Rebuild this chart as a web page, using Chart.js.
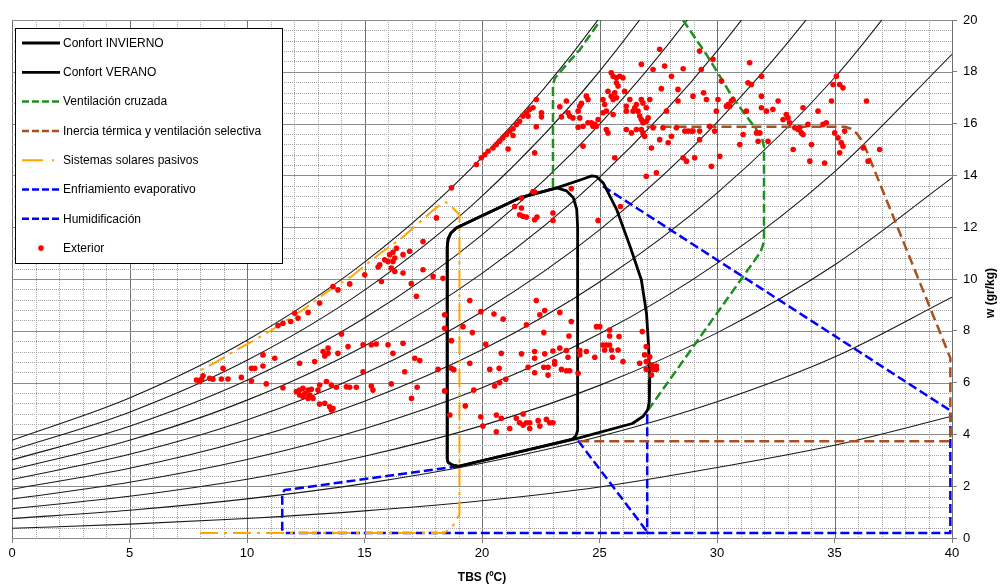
<!DOCTYPE html>
<html>
<head>
<meta charset="utf-8">
<script src="https://cdn.jsdelivr.net/npm/chart.js@4.4.0/dist/chart.umd.min.js"></script>
<style>
  html, body { margin: 0; padding: 0; background: #fff; }
  #wrap { width: 1000px; height: 588px; }
</style>
</head>
<body>
<div id="wrap"><canvas id="chart" width="1000" height="588"></canvas></div>
<script>
// Temperatures (TBS, ºC) where the relative humidity curves are read
const temps = [0, 5, 10, 15, 20, 25, 30, 35, 40];

// Humidity ratio w (g/kg) of each relative humidity curve at those temperatures
const hr10 = [0.375, 0.536, 0.755, 1.049, 1.439, 1.97, 2.72, 3.58, 4.7];
const hr20 = [0.751, 1.073, 1.512, 2.101, 2.885, 3.916, 5.258, 6.988, 9.3];
const hr30 = [1.128, 1.611, 2.270, 3.157, 4.338, 5.893, 7.920, 10.541, 13.903];
const hr40 = [1.505, 2.150, 3.031, 4.217, 5.797, 7.882, 10.605, 14.135, 18.677];
const hr50 = [1.882, 2.690, 3.793, 5.280, 7.264, 9.884, 13.313, 17.770, 23.52];
const hr60 = [2.260, 3.231, 4.557, 6.347, 8.737, 11.898, 16.045, 21.446, 28.44];
const hr70 = [2.638, 3.772, 5.323, 7.417, 10.217, 13.925, 18.800, 25.165, 33.44];
const hr80 = [3.017, 4.315, 6.091, 8.491, 11.704, 15.966, 21.579, 28.93, 38.51];
const hr90 = [3.396, 4.859, 6.860, 9.569, 13.198, 18.019, 24.382, 32.73, 43.66];
const hr100 = [3.775, 5.403, 7.632, 10.650, 14.699, 20.086, 27.210, 36.58, 48.89];

// Zones [TBS, w]
const confortInvierno = [[18.52,3.05],[18.52,11.25],[18.56,11.55],[18.68,11.78],[18.9,11.97],[21.6,13.13],[23.18,13.52],
  [23.6,13.40],[23.88,13.15],[24.03,12.70],[24.07,12.0],[24.07,4.15],[24.0,3.95],[23.85,3.82],[19.0,2.77],[18.72,2.82],[18.56,2.92],[18.52,3.05]];
const confortVerano = [[18.52,3.05],[18.52,11.25],[18.56,11.55],[18.68,11.78],[18.9,11.97],[21.6,13.13],[23.18,13.52],
  [24.3,13.86],[24.67,13.98],[24.88,13.95],[25.16,13.71],[25.73,12.68],[26.3,11.26],[26.78,9.97],[27.0,8.68],[27.09,7.39],
  [27.14,6.10],[27.12,5.25],[27.05,4.95],[26.86,4.70],[26.4,4.42],[24.02,3.84],[19.0,2.77],[18.72,2.82],[18.56,2.92],[18.52,3.05]];
const ventilacionA = [[23.02,13.55],[23.02,17.5],[23.1,17.75],[23.3,17.97],[24.16,18.85],[25.05,20.0]];
const ventilacionB = [[28.55,20.0],[29.55,18.67],[30.12,17.83],[30.68,16.99],[31.25,16.29],[31.68,15.77],[31.92,15.42],
  [32.0,15.1],[32.0,11.45],[31.9,11.15],[31.78,10.95],[27.07,4.94]];
const inercia = [[27.0,15.88],[35.43,15.88],[35.7,15.8],[35.95,15.62],[36.14,15.38],[36.3,15.1],[39.93,6.95],[39.93,3.74],[24.03,3.74]];
const solares = [[8.0,0.19],[18.4,0.19],[18.75,0.45],[19.04,0.9],[19.04,12.48],[18.75,12.75],[18.45,12.97],[18.2,12.85],
  [17.86,12.61],[17.15,12.03],[16.58,11.58],[15.73,11.03],[15.23,10.68],[14.45,10.10],[13.74,9.71],[13.03,9.26],
  [12.47,8.87],[11.05,8.03],[10.2,7.58],[9.49,7.23],[8.64,6.77],[7.99,6.46]];
const enfriamiento = [[25.15,13.58],[39.93,4.92],[39.93,0.19],[27.03,0.19],[27.03,4.85]];
const humidificacion = [[19.0,2.77],[11.6,1.85],[11.5,1.72],[11.5,0.32],[11.62,0.19],[27.03,0.19],[26.98,0.3],[24.02,3.84]];

// Exterior hourly points [TBS, w]
const exterior = [
  [19.97,14.68],[20.12,14.80],[20.26,14.93],[20.47,15.06],[20.61,15.19],[20.75,15.32],[20.89,15.45],[21.04,15.58],[21.18,15.71],[21.32,15.80],
  [21.46,15.97],[21.60,16.09],[21.74,16.29],[21.89,16.42],[22.03,16.55],[22.17,16.61],[22.31,16.93],[21.96,16.29],[21.32,15.54],[21.11,15.02],
  [22.24,14.87],[22.53,16.42],[22.53,16.26],[22.31,15.88],
  [23.31,16.65],[23.38,16.26],[23.59,16.87],[23.66,16.42],[23.73,16.29],[23.87,16.22],[24.09,16.48],[24.16,16.67],[24.16,16.22],[24.30,15.90],
  [24.09,15.86],[24.44,17.06],[24.51,16.93],[24.23,16.78],[24.51,16.03],[24.65,16.03],[24.72,15.90],[24.80,15.97],[24.94,16.16],[24.87,15.90],
  [25.15,16.93],[25.22,16.74],[25.15,16.42],[25.29,16.48],[25.36,17.25],[25.50,17.06],[25.58,16.93],[25.50,17.96],[25.58,17.83],[25.72,17.77],
  [25.86,17.83],[26.00,17.77],[25.72,17.58],[25.79,17.45],[25.65,17.19],[25.72,17.00],[25.58,16.35],[25.29,15.77],[25.36,15.64],[25.65,14.68],
  [24.30,15.13],[26.07,17.25],[26.29,16.93],[26.14,16.67],[26.14,16.48],[26.43,16.48],[26.50,16.61],[26.57,16.74],[26.64,16.48],[26.78,16.93],
  [26.85,16.80],[26.71,16.29],[26.78,16.16],[26.85,16.03],[26.78,15.77],[26.85,15.64],[26.92,15.51],[26.36,15.64],[26.14,15.77],[26.57,15.77],
  [26.99,16.61],[27.14,16.93],[27.07,16.22],[26.99,16.09],[26.78,18.29],[27.28,18.09],[27.56,18.87],[27.77,18.22],[28.06,17.83],[27.63,17.35],
  [27.85,16.48],[27.56,15.38],[27.21,15.06],[26.99,13.97],[27.42,14.10],[27.28,15.84],[27.70,15.84],[27.92,15.26],[28.06,15.51],[28.34,17.32],
  [28.34,16.87],[28.27,15.84],[28.56,18.12],[28.63,15.71],[28.77,15.71],[28.91,15.71],[28.98,17.06],[28.98,15.71],[29.26,15.71],[29.26,15.38],
  [28.56,14.68],[28.70,14.55],[29.05,14.68],[29.26,18.80],[29.33,18.09],[29.43,17.19],[29.55,16.93],[29.83,18.48],[29.90,15.71],[29.69,15.90],
  [29.97,16.48],[30.04,16.93],[30.19,17.64],[30.40,16.67],[30.47,16.74],[30.54,16.67],[30.61,16.87],[30.68,16.93],[30.12,14.74],[29.76,14.35],
  [30.97,15.19],[31.11,15.58],[31.25,16.48],[31.32,17.58],[31.39,18.35],[31.46,17.51],[31.68,15.64],[31.75,15.32],[31.82,15.64],[31.89,17.83],
  [31.89,17.06],[31.89,16.61],[32.10,16.48],[32.17,15.32],[32.38,16.55],[32.60,16.87],[32.81,16.16],[32.95,16.35],[33.02,16.22],[33.09,16.03],
  [33.24,15.00],[33.31,15.84],[33.45,15.77],[33.52,15.84],[33.59,15.64],[33.66,15.58],[33.66,16.61],[33.87,15.97],[34.02,15.19],[33.95,14.55],
  [34.30,16.48],[34.51,15.97],[34.65,16.03],[34.58,14.48],[34.87,16.87],[34.94,17.51],[35.08,17.83],[35.22,17.51],[35.36,17.38],[35.01,15.64],
  [35.15,15.45],[35.29,15.26],[35.36,15.13],[35.22,14.87],[35.43,15.71],[36.22,15.06],[36.36,16.87],[36.43,14.55],[36.92,15.00],
  [19.76,14.42],[18.70,13.52],[18.06,12.36],[21.68,13.13],[22.17,13.38],[22.24,13.36],[21.39,12.80],[21.68,12.74],[21.60,12.48],[21.74,12.42],
  [21.89,12.39],[22.24,12.29],[22.34,12.39],[23.02,12.55],[23.02,12.26],[23.80,13.49],[24.94,12.26],[25.89,12.80],[18.34,10.03],
  [17.49,11.45],[16.36,11.19],[16.21,11.03],[16.07,10.94],[16.29,10.81],[15.86,10.74],[16.00,10.68],[16.21,10.68],[15.65,10.55],[15.58,10.46],
  [16.14,10.42],[16.29,10.29],[16.64,10.23],[16.92,11.07],[16.64,10.94],[17.49,10.36],[17.92,10.10],[15.01,10.16],[15.72,9.90],[13.87,9.58],
  [13.66,9.71],[13.09,9.07],[12.60,8.71],[12.03,8.68],[12.17,8.49],[11.86,8.36],[11.53,8.29],[11.32,8.20],[16.99,9.82],[17.21,9.33],
  [18.41,8.62],[18.41,8.10],[18.70,7.62],[14.02,7.88],[13.45,7.33],[13.45,7.13],[13.31,7.03],[13.24,7.20],[12.88,6.81],[12.24,6.75],
  [13.87,7.13],[14.30,7.39],[14.94,7.46],[15.29,7.46],[15.50,7.49],[16.00,7.46],[16.64,7.52],[16.21,7.13],[17.14,6.94],[17.35,6.85],
  [18.13,6.51],[18.70,6.55],[16.71,6.42],[14.94,6.42],[10.82,5.95],[10.19,6.06],[9.76,6.20],[9.19,6.14],[8.91,6.14],[8.55,6.13],
  [8.41,6.17],[8.06,6.13],[7.99,6.04],[7.85,6.10],[8.13,6.26],[8.98,6.55],[10.19,6.55],[10.33,6.55],[10.68,6.64],[10.68,7.07],
  [11.18,6.94],[11.53,5.80],[18.41,5.68],[17.00,5.39],[14.37,9.81],[17.24,5.82],[18.80,6.50],
  [12.10,5.65],[12.24,5.71],[12.38,5.78],[12.46,5.58],[12.60,5.71],[12.74,5.74],[12.67,5.52],[12.81,5.39],[12.24,5.52],[12.38,5.46],
  [12.60,5.39],[13.09,5.91],[13.02,5.71],[13.38,6.04],[13.59,5.91],[13.80,5.82],[14.23,5.84],[14.37,5.82],[14.65,5.82],[15.29,5.87],
  [15.36,5.71],[16.14,5.95],[13.09,5.17],[13.31,5.20],[13.52,5.07],[13.59,4.94],[13.66,5.00],
  [18.63,4.75],[19.29,5.10],[19.48,9.17],[19.95,8.74],[20.51,8.65],[20.90,8.45],[19.19,8.16],[19.59,7.93],[20.16,7.48],[20.82,7.13],
  [20.33,6.51],[20.73,6.55],[19.48,6.75],[21.01,6.13],[20.75,6.00],[20.54,5.87],[19.65,5.71],[19.95,4.68],[20.61,4.75],[20.82,4.62],
  [21.46,4.62],[21.75,4.79],[21.60,4.45],[21.89,4.45],[22.03,4.45],[22.39,4.53],[22.74,4.58],[22.88,4.45],[23.02,4.45],[22.03,4.23],
  [22.46,4.32],[20.04,4.32],[20.61,4.10],[21.18,4.23],[21.75,4.36],[21.89,8.23],[22.46,8.62],[22.67,8.78],[23.31,8.71],[23.80,8.36],
  [22.63,7.93],[23.70,7.80],[21.68,7.11],[22.24,7.20],[22.67,7.11],[23.02,7.22],[23.31,7.33],[23.59,7.24],[23.66,6.98],[22.24,6.94],
  [21.96,6.59],[22.24,6.38],[22.63,6.59],[22.81,6.59],[23.09,6.81],[23.09,6.72],[23.38,6.51],[23.59,6.46],[23.73,6.46],[22.81,6.29],
  [24.09,6.36],[24.16,7.24],[24.44,7.20],[24.16,7.07],[24.80,6.98],[25.15,7.45],[25.29,7.45],[25.43,7.45],[25.22,7.26],[25.51,7.26],
  [25.79,7.26],[25.43,7.80],[25.43,8.03],[25.83,7.78],[24.87,8.16],[25.01,8.16],[26.82,7.97],[25.55,6.98],[26.00,6.81],[26.71,6.75],
  [26.99,7.39],[26.92,7.07],[27.14,7.00],[26.99,6.81],[27.21,6.68],[27.28,6.64],[27.42,6.64],[26.99,6.51],[27.28,6.51],[27.42,6.51],
  [27.21,6.29],[22.31,9.17]
];

const FONT = "Arial, 'Liberation Sans', sans-serif";
Chart.defaults.font.family = FONT;
Chart.defaults.color = '#000';

const toPts = pairs => pairs.map(([t, w]) => ({ x: t, y: w }));
const curve = vals => temps.map((t, i) => ({ x: t, y: vals[i] }));

// zone line helper
const zone = (label, pairs, color, width, dash, legendDash, inLegend) => ({
  label, data: toPts(pairs), borderColor: color, borderWidth: width, borderDash: dash,
  legendDash, inLegend, pointRadius: 0, tension: 0, fill: false, order: 2,
  borderJoinStyle: 'round', borderCapStyle: 'butt'
});

const datasets = [
  zone('Confort INVIERNO', confortInvierno, '#000', 2.8, [], [], true),
  zone('Confort VERANO', confortVerano, '#000', 2.8, [], [], true),
  zone('Ventilación cruzada', ventilacionA, '#1f8f1f', 2.5, [9, 4], [7, 3], true),
  zone('Ventilación cruzada', ventilacionB, '#1f8f1f', 2.5, [9, 4], [7, 3], false),
  zone('Inercia térmica y ventilación selectiva', inercia, '#a8501e', 2.5, [10, 5], [7, 3], true),
  zone('Sistemas solares pasivos', solares, '#ffa500', 2, [18, 6, 3, 6], [21, 9, 2, 8], true),
  zone('Enfriamiento evaporativo', enfriamiento, '#0000ff', 2.5, [9, 4], [7, 3], true),
  zone('Humidificación', humidificacion, '#0000ff', 2.5, [9, 4], [7, 3], true),
  {
    label: 'Exterior', data: toPts(exterior), showLine: false, inLegend: true,
    pointRadius: 2.8, pointBackgroundColor: '#ff0000', pointBorderWidth: 0, order: 0
  }
];
// confort lines above the strategy zones
datasets[0].order = 1;
datasets[1].order = 1;

[hr10, hr20, hr30, hr40, hr50, hr60, hr70, hr80, hr90, hr100].forEach(v => {
  datasets.push({
    label: '', data: curve(v), borderColor: '#1a1a1a', borderWidth: 1.1, pointRadius: 0,
    cubicInterpolationMode: 'monotone', fill: false, order: 10, inLegend: false
  });
});

// background grid: 1 ºC / 0.4 g/kg minor, 5 ºC / 2 g/kg major
const gridPlugin = {
  id: 'psychroGrid',
  beforeDatasetsDraw(chart) {
    const { ctx, chartArea: a, scales: { x, y } } = chart;
    ctx.save();
    ctx.lineWidth = 1;
    for (let t = 0; t <= 40; t++) {
      const px = Math.round(x.getPixelForValue(t)) + 0.5;
      const major = t % 5 === 0;
      ctx.strokeStyle = major ? '#707070' : '#a4a4a4';
      ctx.setLineDash(major ? [] : [1, 1]);
      ctx.beginPath(); ctx.moveTo(px, a.top); ctx.lineTo(px, a.bottom); ctx.stroke();
    }
    for (let i = 0; i <= 50; i++) {
      const py = Math.round(y.getPixelForValue(i * 0.4)) + 0.5;
      const major = i % 5 === 0;
      ctx.strokeStyle = major ? '#8c8c8c' : '#a4a4a4';
      ctx.setLineDash(major ? [] : [1, 1]);
      ctx.beginPath(); ctx.moveTo(a.left, py); ctx.lineTo(a.right, py); ctx.stroke();
    }
    ctx.restore();
  }
};

// boxed legend in the upper-left corner of the plot
const boxLegend = {
  id: 'boxLegend',
  afterDatasetsDraw(chart) {
    const ctx = chart.ctx;
    const items = chart.data.datasets.filter(d => d.inLegend);
    ctx.save();
    ctx.setLineDash([]);
    ctx.fillStyle = '#fff';
    ctx.fillRect(15.5, 28.5, 267, 235);
    ctx.strokeStyle = '#000';
    ctx.lineWidth = 1;
    ctx.strokeRect(15.5, 28.5, 267, 235);
    ctx.font = '12px ' + FONT;
    ctx.textBaseline = 'middle';
    items.forEach((d, i) => {
      const cy = 43 + i * 29.3;
      if (d.showLine === false) {
        ctx.fillStyle = d.pointBackgroundColor;
        ctx.beginPath(); ctx.arc(41, cy, 2.8, 0, Math.PI * 2); ctx.fill();
      } else {
        ctx.strokeStyle = d.borderColor;
        ctx.lineWidth = d.borderWidth;
        ctx.setLineDash(d.legendDash);
        ctx.beginPath(); ctx.moveTo(22, cy); ctx.lineTo(60, cy); ctx.stroke();
        ctx.setLineDash([]);
      }
      ctx.fillStyle = '#000';
      ctx.fillText(d.label, 63, cy + 0.5);
    });
    ctx.restore();
  }
};

// axis titles
const axisTitles = {
  id: 'axisTitles',
  afterDraw(chart) {
    const { ctx, chartArea: a } = chart;
    ctx.save();
    ctx.fillStyle = '#000';
    ctx.font = 'bold 12px ' + FONT;
    ctx.textAlign = 'center';
    ctx.textBaseline = 'middle';
    ctx.fillText('TBS (ºC)', (a.left + a.right) / 2, 578);
    ctx.translate(991, 293);
    ctx.rotate(-Math.PI / 2);
    ctx.fillText('w (gr/kg)', 0, 0);
    ctx.restore();
  }
};

new Chart(document.getElementById('chart'), {
  type: 'line',
  data: { datasets },
  options: {
    responsive: false,
    animation: false,
    devicePixelRatio: 1,
    layout: { padding: { left: 12, top: 20, right: 0, bottom: 0 } },
    plugins: { legend: { display: false }, tooltip: { enabled: false } },
    scales: {
      x: {
        type: 'linear', min: 0, max: 40,
        afterFit: s => { s.height = 50; },
        ticks: { stepSize: 5, padding: 3, maxRotation: 0, font: { size: 13 }, color: '#000' },
        grid: { drawOnChartArea: false, drawTicks: true, tickLength: 5, color: '#808080' },
        border: { color: '#808080' }
      },
      y: {
        type: 'linear', position: 'right', min: 0, max: 20,
        afterFit: s => { s.width = 48; },
        ticks: { stepSize: 2, padding: 6, font: { size: 13 }, color: '#000' },
        grid: { drawOnChartArea: false, drawTicks: true, tickLength: 5, color: '#808080' },
        border: { color: '#808080' }
      }
    }
  },
  plugins: [gridPlugin, boxLegend, axisTitles]
});
</script>
</body>
</html>
